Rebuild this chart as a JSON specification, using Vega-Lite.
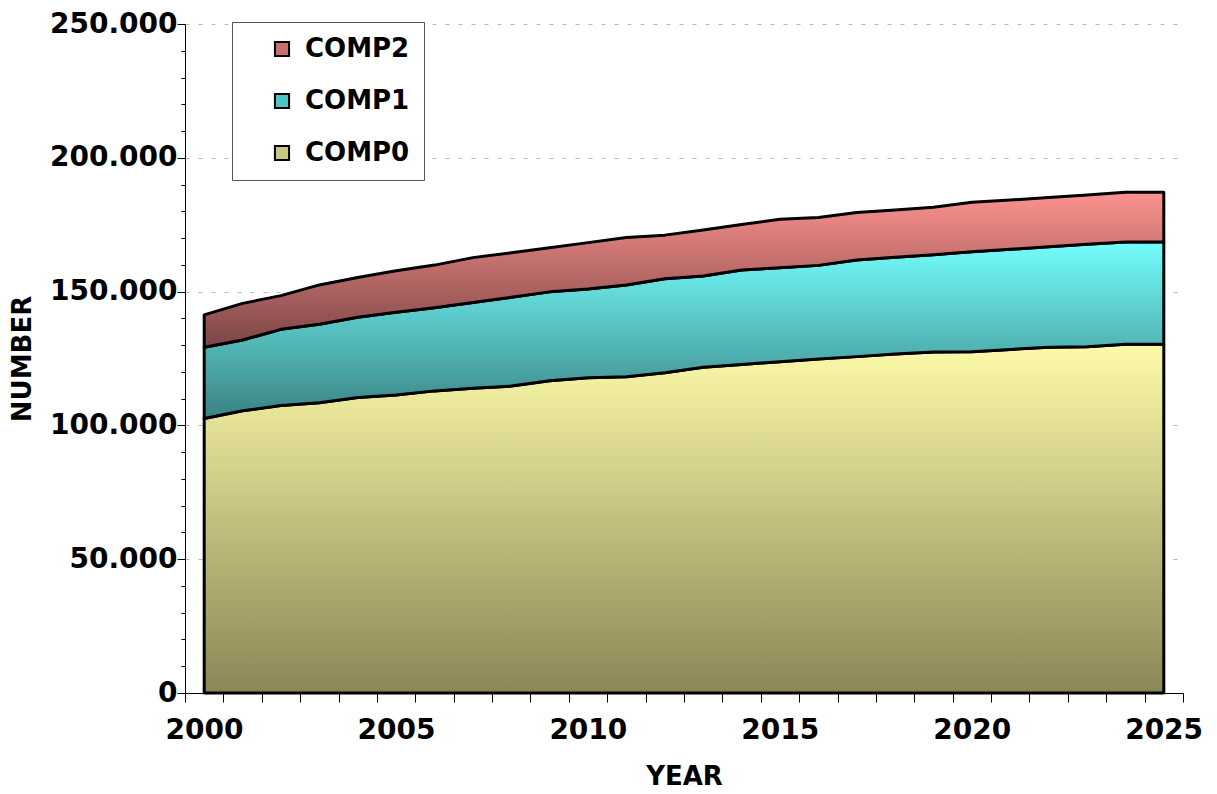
{
  "$schema": "https://vega.github.io/schema/vega-lite/v6.json",
  "width": 998,
  "height": 669,
  "autosize": "none",
  "padding": {"left": 185, "top": 24, "right": 34, "bottom": 101},
  "background": "white",
  "config": {
    "view": {"stroke": null},
    "locale": {"number": {"decimal": ",", "thousands": ".", "grouping": [3], "currency": ["", ""]}},
    "font": "DejaVu Sans"
  },
  "data": {
    "values": [
      {"year": 2000, "comp": "COMP0", "value": 102600}, {"year": 2000, "comp": "COMP1", "value": 26600}, {"year": 2000, "comp": "COMP2", "value": 12100},
      {"year": 2001, "comp": "COMP0", "value": 105500}, {"year": 2001, "comp": "COMP1", "value": 26400}, {"year": 2001, "comp": "COMP2", "value": 13700},
      {"year": 2002, "comp": "COMP0", "value": 107400}, {"year": 2002, "comp": "COMP1", "value": 28500}, {"year": 2002, "comp": "COMP2", "value": 12600},
      {"year": 2003, "comp": "COMP0", "value": 108500}, {"year": 2003, "comp": "COMP1", "value": 29300}, {"year": 2003, "comp": "COMP2", "value": 14700},
      {"year": 2004, "comp": "COMP0", "value": 110400}, {"year": 2004, "comp": "COMP1", "value": 30000}, {"year": 2004, "comp": "COMP2", "value": 14900},
      {"year": 2005, "comp": "COMP0", "value": 111400}, {"year": 2005, "comp": "COMP1", "value": 30900}, {"year": 2005, "comp": "COMP2", "value": 15500},
      {"year": 2006, "comp": "COMP0", "value": 112900}, {"year": 2006, "comp": "COMP1", "value": 31100}, {"year": 2006, "comp": "COMP2", "value": 15900},
      {"year": 2007, "comp": "COMP0", "value": 113900}, {"year": 2007, "comp": "COMP1", "value": 32000}, {"year": 2007, "comp": "COMP2", "value": 16800},
      {"year": 2008, "comp": "COMP0", "value": 114700}, {"year": 2008, "comp": "COMP1", "value": 33200}, {"year": 2008, "comp": "COMP2", "value": 16600},
      {"year": 2009, "comp": "COMP0", "value": 116700}, {"year": 2009, "comp": "COMP1", "value": 33200}, {"year": 2009, "comp": "COMP2", "value": 16500},
      {"year": 2010, "comp": "COMP0", "value": 117800}, {"year": 2010, "comp": "COMP1", "value": 33200}, {"year": 2010, "comp": "COMP2", "value": 17300},
      {"year": 2011, "comp": "COMP0", "value": 118200}, {"year": 2011, "comp": "COMP1", "value": 34300}, {"year": 2011, "comp": "COMP2", "value": 17700},
      {"year": 2012, "comp": "COMP0", "value": 119700}, {"year": 2012, "comp": "COMP1", "value": 35100}, {"year": 2012, "comp": "COMP2", "value": 16300},
      {"year": 2013, "comp": "COMP0", "value": 121700}, {"year": 2013, "comp": "COMP1", "value": 34100}, {"year": 2013, "comp": "COMP2", "value": 17200},
      {"year": 2014, "comp": "COMP0", "value": 122800}, {"year": 2014, "comp": "COMP1", "value": 35300}, {"year": 2014, "comp": "COMP2", "value": 17000},
      {"year": 2015, "comp": "COMP0", "value": 123800}, {"year": 2015, "comp": "COMP1", "value": 35100}, {"year": 2015, "comp": "COMP2", "value": 18100},
      {"year": 2016, "comp": "COMP0", "value": 124800}, {"year": 2016, "comp": "COMP1", "value": 35000}, {"year": 2016, "comp": "COMP2", "value": 17900},
      {"year": 2017, "comp": "COMP0", "value": 125700}, {"year": 2017, "comp": "COMP1", "value": 36100}, {"year": 2017, "comp": "COMP2", "value": 17800},
      {"year": 2018, "comp": "COMP0", "value": 126700}, {"year": 2018, "comp": "COMP1", "value": 36100}, {"year": 2018, "comp": "COMP2", "value": 17700},
      {"year": 2019, "comp": "COMP0", "value": 127400}, {"year": 2019, "comp": "COMP1", "value": 36400}, {"year": 2019, "comp": "COMP2", "value": 17700},
      {"year": 2020, "comp": "COMP0", "value": 127500}, {"year": 2020, "comp": "COMP1", "value": 37400}, {"year": 2020, "comp": "COMP2", "value": 18500},
      {"year": 2021, "comp": "COMP0", "value": 128400}, {"year": 2021, "comp": "COMP1", "value": 37400}, {"year": 2021, "comp": "COMP2", "value": 18400},
      {"year": 2022, "comp": "COMP0", "value": 129200}, {"year": 2022, "comp": "COMP1", "value": 37600}, {"year": 2022, "comp": "COMP2", "value": 18400},
      {"year": 2023, "comp": "COMP0", "value": 129400}, {"year": 2023, "comp": "COMP1", "value": 38300}, {"year": 2023, "comp": "COMP2", "value": 18400},
      {"year": 2024, "comp": "COMP0", "value": 130300}, {"year": 2024, "comp": "COMP1", "value": 38200}, {"year": 2024, "comp": "COMP2", "value": 18600},
      {"year": 2025, "comp": "COMP0", "value": 130300}, {"year": 2025, "comp": "COMP1", "value": 38200}, {"year": 2025, "comp": "COMP2", "value": 18600}
    ]
  },
  "transform": [
    {"stack": "value", "groupby": ["year"], "sort": [{"field": "comp", "order": "ascending"}], "as": ["y0", "y1"]}
  ],
  "encoding": {
    "x": {
      "field": "year", "type": "quantitative",
      "scale": {"domain": [1999.5, 2025.5], "nice": false, "zero": false},
      "axis": {
        "values": [1999.5, 2000.5, 2001.5, 2002.5, 2003.5, 2004.5, 2005.5, 2006.5, 2007.5, 2008.5, 2009.5, 2010.5, 2011.5, 2012.5, 2013.5, 2014.5, 2015.5, 2016.5, 2017.5, 2018.5, 2019.5, 2020.5, 2021.5, 2022.5, 2023.5, 2024.5, 2025.5],
        "labelExpr": "(datum.value - 1999.5) % 5 === 0 && datum.value < 2025 ? format(datum.value + 0.5, 'd') : ''",
        "labelOffset": 19,
        "title": "YEAR",
        "grid": false,
        "tickSize": 9,
        "tickColor": "black",
        "domainColor": "black",
        "labelFont": "DejaVu Sans",
        "labelFontSize": 28,
        "labelFontWeight": "bold",
        "labelColor": "black",
        "labelPadding": 14,
        "labelOverlap": false,
        "labelFlush": false,
        "labelBound": false,
        "titleFont": "DejaVu Sans",
        "titleFontSize": 26,
        "titleFontWeight": "bold",
        "titleColor": "black",
        "titlePadding": 19
      }
    },
    "y": {
      "field": "y1", "type": "quantitative",
      "scale": {"domain": [0, 250000], "nice": false},
      "axis": {
        "values": [0, 10000, 20000, 30000, 40000, 50000, 60000, 70000, 80000, 90000, 100000, 110000, 120000, 130000, 140000, 150000, 160000, 170000, 180000, 190000, 200000, 210000, 220000, 230000, 240000, 250000],
        "labelExpr": "datum.value % 50000 === 0 ? format(datum.value, ',') : ''",
        "title": "NUMBER",
        "grid": true,
        "gridColor": "#b8b8b8",
        "gridDash": [4, 9],
        "gridOpacity": {"condition": {"test": "datum.value % 50000 === 0 && datum.value > 0", "value": 1}, "value": 0},
        "tickSize": {"condition": {"test": "datum.value % 50000 === 0", "value": 8}, "value": 4},
        "tickColor": "black",
        "domainColor": "black",
        "labelFont": "DejaVu Sans",
        "labelFontSize": 28,
        "labelFontWeight": "bold",
        "labelColor": "black",
        "labelPadding": 0,
        "labelOverlap": false,
        "labelBound": false,
        "labelFlush": false,
        "titleFont": "DejaVu Sans",
        "titleFontSize": 26,
        "titleFontWeight": "bold",
        "titleColor": "black",
        "titlePadding": 14
      }
    },
    "y2": {"field": "y0"}
  },
  "layer": [
    {
      "mark": {"type": "area", "opacity": 0},
      "encoding": {
        "color": {
          "field": "comp", "type": "nominal",
          "scale": {"domain": ["COMP2", "COMP1", "COMP0"], "range": ["#c9706c", "#4fc3c3", "#c9c680"]},
          "legend": {
            "orient": "none", "legendX": 47, "legendY": -2,
            "title": null,
            "symbolType": "square", "symbolSize": 200,
            "symbolStrokeColor": "black", "symbolStrokeWidth": 2, "symbolOpacity": 1,
            "labelFont": "DejaVu Sans", "labelFontSize": 26, "labelFontWeight": "bold", "labelColor": "black",
            "padding": 14, "rowPadding": 26, "symbolOffset": 23, "labelOffset": 10,
            "strokeColor": "#555555", "fillColor": "white", "labelLimit": 300
          }
        }
      }
    },
    {
      "transform": [{"filter": "datum.comp === 'COMP0'"}],
      "mark": {
        "type": "area", "stroke": "black", "strokeWidth": 3, "strokeJoin": "round",
        "fill": {"gradient": "linear", "x1": 0, "y1": 0, "x2": 0, "y2": 1,
          "stops": [{"offset": 0, "color": "#fdfba8"}, {"offset": 1, "color": "#8a8757"}]}
      }
    },
    {
      "transform": [{"filter": "datum.comp === 'COMP1'"}],
      "mark": {
        "type": "area", "stroke": "black", "strokeWidth": 3, "strokeJoin": "round",
        "fill": {"gradient": "linear", "x1": 0, "y1": 0, "x2": 0, "y2": 1,
          "stops": [{"offset": 0, "color": "#74fdfd"}, {"offset": 1, "color": "#3a8282"}]}
      }
    },
    {
      "transform": [{"filter": "datum.comp === 'COMP2'"}],
      "mark": {
        "type": "area", "stroke": "black", "strokeWidth": 3, "strokeJoin": "round",
        "fill": {"gradient": "linear", "x1": 0, "y1": 0, "x2": 0, "y2": 1,
          "stops": [{"offset": 0, "color": "#fd928e"}, {"offset": 1, "color": "#7a4545"}]}
      }
    }
  ]
}
